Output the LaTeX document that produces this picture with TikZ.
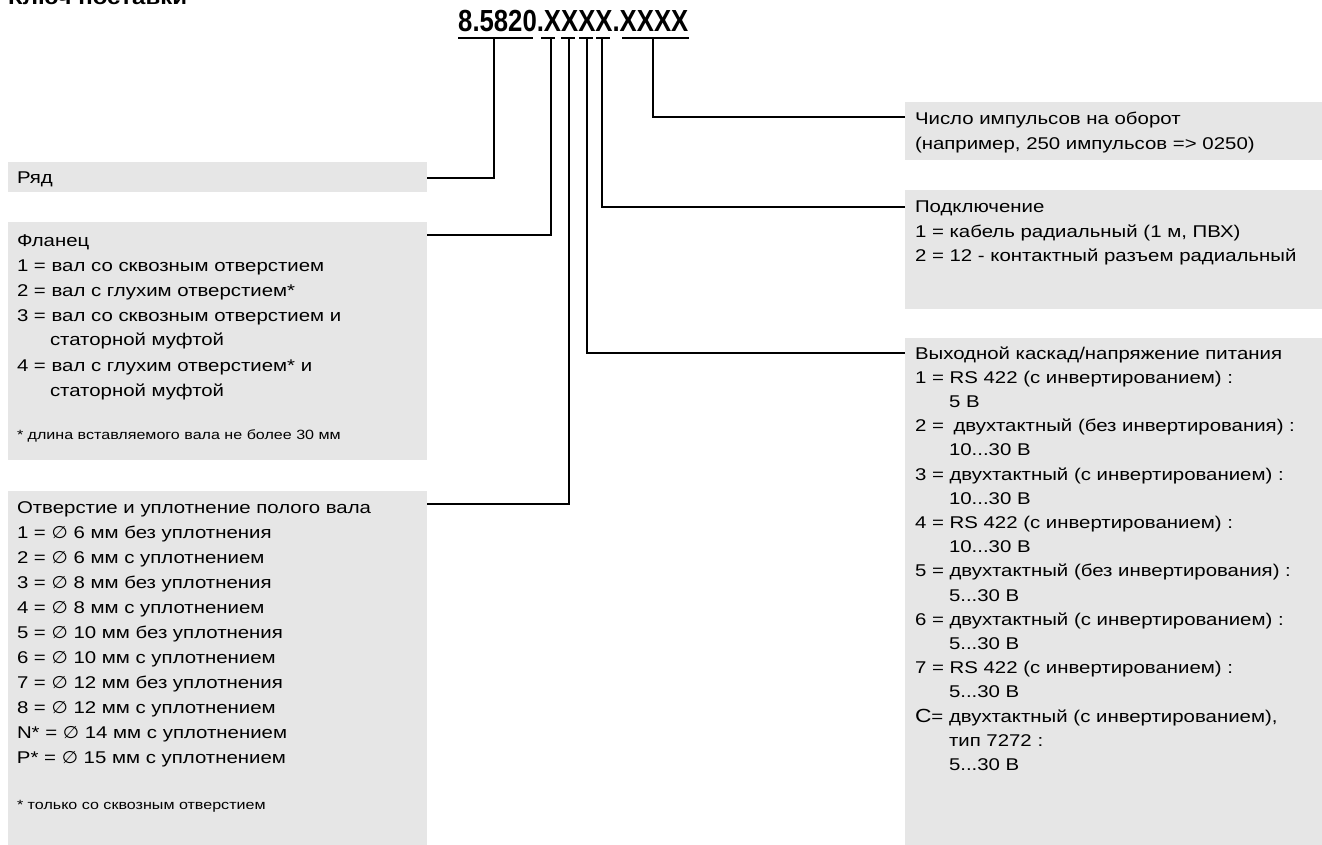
\documentclass[tikz,border=0pt]{standalone}
\usepackage{fontspec}
\setmainfont{Liberation Sans}[FakeStretch=1.2]
\newfontfamily\codefont{Liberation Sans}[FakeStretch=0.843]
\newfontfamily\symfont{DejaVu Sans}[FakeStretch=1.1]
\newcommand{\dm}{{\symfont ∅}}
\definecolor{boxgray}{RGB}{230,230,230}
\tikzset{
  box/.style={fill=boxgray, draw=none, anchor=north west, inner sep=0pt, outer sep=0pt},
  txt/.style={anchor=base west, inner sep=0pt, outer sep=0pt, align=left, text width=400pt, font=\fontsize{17}{25}\selectfont},
  txtr/.style={txt, font=\fontsize{17}{24.2}\selectfont},
  note/.style={txt, font=\fontsize{13.4}{15}\selectfont},
  conn/.style={line width=2pt},
  uline/.style={line width=2.4pt},
}
\begin{document}
\begin{tikzpicture}[x=1pt,y=-1pt]
\useasboundingbox (0,0) rectangle (1322,845);
% title (cut off at top, as in the reference)
\node[anchor=base west, inner sep=0pt, font=\bfseries\fontsize{20}{20}\selectfont] (title) at (8,4.5) {Ключ поставки};
% order code
\node[anchor=base west, inner sep=0pt, font=\codefont\bfseries\fontsize{30.5}{30}\selectfont] (code) at (458,32) {8.5820.XXXX.XXXX};
% underline segments
\coordinate (s0l) at (458,38); \coordinate (s0r) at (533,38);
\coordinate (s1l) at (541,38); \coordinate (s1r) at (555,38);
\coordinate (s2l) at (561,38); \coordinate (s2r) at (575,38);
\coordinate (s3l) at (579,38); \coordinate (s3r) at (593,38);
\coordinate (s4l) at (596,38); \coordinate (s4r) at (610,38);
\coordinate (s5l) at (622,38); \coordinate (s5r) at (689,38);
\draw[uline] (s0l) -- (s0r);
\draw[uline] (s1l) -- (s1r);
\draw[uline] (s2l) -- (s2r);
\draw[uline] (s3l) -- (s3r);
\draw[uline] (s4l) -- (s4r);
\draw[uline] (s5l) -- (s5r);
% connector start points
\coordinate (v0) at (494,38);
\coordinate (v1) at (551,38);
\coordinate (v2) at (569,38);
\coordinate (v3) at (587,38);
\coordinate (v4) at (602,38);
\coordinate (v5) at (653,38);
% boxes left
\node[box, minimum width=419pt, minimum height=30pt] (ryadbox) at (8,162) {};
\node[box, minimum width=419pt, minimum height=238pt] (flbox) at (8,222) {};
\node[box, minimum width=419pt, minimum height=354pt] (otbox) at (8,491) {};
% boxes right
\node[box, minimum width=417pt, minimum height=58pt] (chbox) at (905,102) {};
\node[box, minimum width=417pt, minimum height=119pt] (podbox) at (905,190) {};
\node[box, minimum width=417pt, minimum height=507pt] (vybox) at (905,338) {};
% pins on boxes
\coordinate (ryadpin) at (427,178);
\coordinate (flpin) at (427,235);
\coordinate (otpin) at (427,504);
\coordinate (chpin) at (905,117);
\coordinate (podpin) at (905,207);
\coordinate (vypin) at (905,353);
% connectors
\draw[conn] (v0) |- (ryadpin);
\draw[conn] (v1) |- (flpin);
\draw[conn] (v2) |- (otpin);
\draw[conn] (v3) |- (vypin);
\draw[conn] (v4) |- (podpin);
\draw[conn] (v5) |- (chpin);
% texts left
\node[txt] (ryadtxt) at (17,184) {Ряд};
\node[txt] (fltxt) at (17,246) {Фланец\\
1 = вал со сквозным отверстием\\
2 = вал с глухим отверстием*\\
3 = вал со сквозным отверстием и\\
\hspace*{33pt}статорной муфтой\\
4 = вал с глухим отверстием* и\\
\hspace*{33pt}статорной муфтой};
\node[note] (flnote) at (17,439) {* длина вставляемого вала не более 30 мм};
\node[txt] (ottxt) at (17,513) {Отверстие и уплотнение полого вала\\
1 = \dm{} 6 мм без уплотнения\\
2 = \dm{} 6 мм с уплотнением\\
3 = \dm{} 8 мм без уплотнения\\
4 = \dm{} 8 мм с уплотнением\\
5 = \dm{} 10 мм без уплотнения\\
6 = \dm{} 10 мм с уплотнением\\
7 = \dm{} 12 мм без уплотнения\\
8 = \dm{} 12 мм с уплотнением\\
N* = \dm{} 14 мм с уплотнением\\
P* = \dm{} 15 мм с уплотнением};
\node[note] (otnote) at (17,809) {* только со сквозным отверстием};
% texts right
\node[txtr] (chtxt) at (915,125) {Число импульсов на оборот\\
(например, 250 импульсов => 0250)};
\node[txtr] (podtxt) at (915,213) {Подключение\\
1 = кабель радиальный (1 м, ПВХ)\\
2 = 12 - контактный разъем радиальный};
\node[txtr] (vytxt) at (915,359) {Выходной каскад/напряжение питания\\
1 = RS 422 (с инвертированием) :\\
\hspace*{34pt}5 В\\
2 = \hspace{4pt}двухтактный (без инвертирования) :\\
\hspace*{34pt}10...30 В\\
3 = двухтактный (с инвертированием) :\\
\hspace*{34pt}10...30 В\\
4 = RS 422 (с инвертированием) :\\
\hspace*{34pt}10...30 В\\
5 = двухтактный (без инвертирования) :\\
\hspace*{34pt}5...30 В\\
6 = двухтактный (с инвертированием) :\\
\hspace*{34pt}5...30 В\\
7 = RS 422 (с инвертированием) :\\
\hspace*{34pt}5...30 В\\
{\fontsize{19}{19}\selectfont C}= двухтактный (с инвертированием),\\
\hspace*{34pt}тип 7272 :\\
\hspace*{34pt}5...30 В};
\end{tikzpicture}
\end{document}
